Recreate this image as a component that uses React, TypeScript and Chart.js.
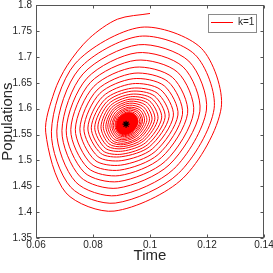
import React, { useEffect, useRef } from 'react';
import { Chart, registerables } from 'chart.js';

Chart.register(...registerables);

// Trajectory, in drawing order (outer start, spiralling inward)
const spiralX = [
  0.1000, 0.0886, 0.0787, 0.0710, 0.0664,
  0.0634, 0.0705, 0.0874, 0.1116, 0.1250, 0.1180, 0.0968, 0.0736,
  0.0654, 0.0722, 0.0878, 0.1099, 0.1225, 0.1158, 0.0963, 0.0751,
  0.0673, 0.0739, 0.0882, 0.1083, 0.1198, 0.1136, 0.0959, 0.0765,
  0.0691, 0.0755, 0.0886, 0.1067, 0.1175, 0.1116, 0.0955, 0.0779,
  0.0706, 0.0769, 0.0889, 0.1054, 0.1153, 0.1097, 0.0951, 0.0791,
  0.0722, 0.0782, 0.0892, 0.1040, 0.1132, 0.1079, 0.0947, 0.0803,
  0.0738, 0.0794, 0.0894, 0.1029, 0.1114, 0.1064, 0.0944, 0.0814,
  0.0754, 0.0806, 0.0897, 0.1018, 0.1098, 0.1050, 0.0941, 0.0824,
  0.0768, 0.0817, 0.0899, 0.1008, 0.1082, 0.1037, 0.0938, 0.0834,
  0.0782, 0.0827, 0.0901, 0.0999, 0.1067, 0.1025, 0.0936, 0.0842,
  0.0794, 0.0835, 0.0902, 0.0992, 0.1053, 0.1015, 0.0934, 0.0849,
  0.0806, 0.0843, 0.0904, 0.0985, 0.1041, 0.1006, 0.0933, 0.0855,
  0.0817, 0.0850, 0.0905, 0.0978, 0.1028, 0.0998, 0.0932, 0.0861,
  0.0828, 0.0856, 0.0906, 0.0973, 0.1017, 0.0991, 0.0930, 0.0866,
  0.0836, 0.0862, 0.0907, 0.0967, 0.1007, 0.0984, 0.0929, 0.0871,
  0.0845, 0.0867, 0.0908, 0.0963, 0.0998, 0.0977, 0.0928, 0.0875,
  0.0852, 0.0872, 0.0909, 0.0958, 0.0989, 0.0971, 0.0927, 0.0880,
  0.0859, 0.0877, 0.0909, 0.0954, 0.0981, 0.0966, 0.0926, 0.0884,
  0.0866, 0.0881, 0.0910, 0.0950, 0.0974, 0.0961, 0.0925, 0.0887,
  0.0871, 0.0885, 0.0911, 0.0947, 0.0969, 0.0957, 0.0924, 0.0890,
  0.0877, 0.0888, 0.0911, 0.0944, 0.0964, 0.0952, 0.0924, 0.0893,
  0.0880, 0.0891, 0.0912, 0.0941, 0.0958, 0.0949, 0.0923, 0.0895,
  0.0883, 0.0892, 0.0912, 0.0940, 0.0956, 0.0947, 0.0923, 0.0896,
  0.0885, 0.0894, 0.0912, 0.0938, 0.0953, 0.0945, 0.0922, 0.0897,
  0.0887, 0.0895, 0.0913, 0.0937, 0.0951, 0.0943, 0.0922, 0.0899,
  0.0889, 0.0897, 0.0913, 0.0936, 0.0948, 0.0941, 0.0922, 0.0900,
  0.0891, 0.0898, 0.0913, 0.0934, 0.0946, 0.0939, 0.0921, 0.0901,
  0.0893, 0.0900, 0.0914, 0.0933, 0.0943, 0.0937, 0.0921, 0.0903,
  0.0895, 0.0901, 0.0914, 0.0931, 0.0941, 0.0935, 0.0920, 0.0904,
  0.0898, 0.0903, 0.0914, 0.0930, 0.0938, 0.0933, 0.0920, 0.0906,
  0.0900, 0.0905, 0.0915, 0.0928, 0.0936, 0.0931, 0.0920, 0.0907,
  0.0902, 0.0906, 0.0915, 0.0927, 0.0933, 0.0930, 0.0919, 0.0909,
  0.0905, 0.0908, 0.0915, 0.0925, 0.0931, 0.0928, 0.0919, 0.0910,
  0.0907, 0.0910, 0.0916, 0.0924, 0.0928, 0.0926, 0.0919, 0.0911,
  0.0909, 0.0911, 0.0916, 0.0922, 0.0926, 0.0924, 0.0918, 0.0913,
  0.0911, 0.0913, 0.0916, 0.0921, 0.0923, 0.0922, 0.0918, 0.0914,
  0.0913, 0.0914, 0.0917, 0.0919, 0.0921, 0.0920, 0.0918, 0.0917,
];

const spiralY = [
  1.784, 1.773, 1.736, 1.684, 1.632,
  1.5545, 1.4373, 1.4020, 1.4657, 1.6022, 1.7168, 1.7573, 1.6862,
  1.5555, 1.4481, 1.4175, 1.4744, 1.5999, 1.7044, 1.7399, 1.6765,
  1.5566, 1.4584, 1.4319, 1.4831, 1.5973, 1.6920, 1.7235, 1.6673,
  1.5576, 1.4683, 1.4464, 1.4912, 1.5950, 1.6808, 1.7081, 1.6589,
  1.5584, 1.4770, 1.4590, 1.4985, 1.5929, 1.6704, 1.6936, 1.6508,
  1.5593, 1.4853, 1.4706, 1.5054, 1.5909, 1.6604, 1.6801, 1.6430,
  1.5602, 1.4932, 1.4812, 1.5115, 1.5891, 1.6519, 1.6685, 1.6359,
  1.5610, 1.5007, 1.4908, 1.5170, 1.5876, 1.6442, 1.6579, 1.6295,
  1.5618, 1.5075, 1.4995, 1.5222, 1.5860, 1.6368, 1.6482, 1.6234,
  1.5626, 1.5138, 1.5072, 1.5268, 1.5846, 1.6302, 1.6395, 1.6180,
  1.5632, 1.5185, 1.5121, 1.5306, 1.5832, 1.6248, 1.6337, 1.6136,
  1.5639, 1.5237, 1.5179, 1.5344, 1.5820, 1.6198, 1.6279, 1.6095,
  1.5645, 1.5280, 1.5227, 1.5378, 1.5808, 1.6152, 1.6231, 1.6058,
  1.5651, 1.5320, 1.5266, 1.5407, 1.5797, 1.6109, 1.6183, 1.6024,
  1.5656, 1.5356, 1.5304, 1.5436, 1.5787, 1.6071, 1.6144, 1.5994,
  1.5660, 1.5387, 1.5333, 1.5460, 1.5778, 1.6036, 1.6106, 1.5967,
  1.5664, 1.5419, 1.5372, 1.5486, 1.5770, 1.6001, 1.6067, 1.5940,
  1.5668, 1.5447, 1.5401, 1.5506, 1.5763, 1.5970, 1.6028, 1.5913,
  1.5672, 1.5474, 1.5430, 1.5526, 1.5756, 1.5943, 1.5999, 1.5893,
  1.5675, 1.5498, 1.5459, 1.5544, 1.5750, 1.5920, 1.5970, 1.5872,
  1.5678, 1.5518, 1.5478, 1.5558, 1.5745, 1.5897, 1.5941, 1.5855,
  1.5680, 1.5534, 1.5497, 1.5573, 1.5740, 1.5878, 1.5922, 1.5844,
  1.5681, 1.5545, 1.5511, 1.5581, 1.5738, 1.5867, 1.5909, 1.5835,
  1.5682, 1.5554, 1.5522, 1.5588, 1.5735, 1.5856, 1.5895, 1.5826,
  1.5683, 1.5564, 1.5534, 1.5596, 1.5733, 1.5845, 1.5882, 1.5818,
  1.5685, 1.5573, 1.5546, 1.5603, 1.5730, 1.5834, 1.5868, 1.5809,
  1.5686, 1.5583, 1.5557, 1.5611, 1.5728, 1.5824, 1.5854, 1.5800,
  1.5687, 1.5592, 1.5569, 1.5618, 1.5725, 1.5813, 1.5841, 1.5791,
  1.5688, 1.5602, 1.5580, 1.5626, 1.5723, 1.5802, 1.5827, 1.5782,
  1.5689, 1.5613, 1.5594, 1.5634, 1.5721, 1.5791, 1.5814, 1.5772,
  1.5691, 1.5624, 1.5607, 1.5642, 1.5718, 1.5780, 1.5800, 1.5764,
  1.5692, 1.5634, 1.5619, 1.5650, 1.5716, 1.5770, 1.5787, 1.5754,
  1.5693, 1.5645, 1.5632, 1.5658, 1.5713, 1.5759, 1.5773, 1.5745,
  1.5694, 1.5654, 1.5644, 1.5665, 1.5711, 1.5748, 1.5760, 1.5736,
  1.5696, 1.5665, 1.5658, 1.5673, 1.5708, 1.5737, 1.5746, 1.5727,
  1.5697, 1.5675, 1.5669, 1.5681, 1.5706, 1.5726, 1.5733, 1.5718,
  1.5698, 1.5684, 1.5681, 1.5688, 1.5703, 1.5715, 1.5719, 1.5702,
];

// index where the dense core of the spiral begins
const denseCoreStart = 181;

const equilibriumX = [0.0916];
const equilibriumY = [1.570];

const xTickValues = [0.06, 0.08, 0.1, 0.12, 0.14];
const xTickLabels = ['0.06', '0.08', '0.1', '0.12', '0.14'];
const yTickValues = [1.35, 1.4, 1.45, 1.5, 1.55, 1.6, 1.65, 1.7, 1.75, 1.8];
const yTickLabels = ['1.35', '1.4', '1.45', '1.5', '1.55', '1.6', '1.65', '1.7', '1.75', '1.8'];

const seriesLabel = 'k=1';
const xAxisTitle = 'Time';
const yAxisTitle = 'Populations';

const NARROW = "'Liberation Sans Narrow', 'Liberation Sans', Arial, sans-serif";
const REGULAR = "'Liberation Sans', Arial, sans-serif";
const TEXT = '#262626';

const framePlugin = {
  id: 'matlabFrame',
  afterLayout(chart: any) {
    const lg = chart.legend;
    if (lg) {
      const h = lg.height;
      lg.left = 198.5;
      lg.top = 5;
      lg.bottom = 5 + h;
    }
  },
  afterDraw(chart: any) {
    const { ctx, chartArea: a, scales } = chart;
    const xs = scales.x;
    const ys = scales.y;
    const L = Math.round(a.left) + 0.5;
    const R = Math.round(a.right) - 0.5;
    const T = Math.round(a.top) + 0.5;
    const B = Math.round(a.bottom) - 0.5;
    ctx.save();
    ctx.strokeStyle = '#555555';
    ctx.lineWidth = 1;
    ctx.strokeRect(L, T, R - L, B - T);
    ctx.beginPath();
    xs.ticks.forEach((t: any) => {
      const px = Math.round(xs.getPixelForValue(t.value)) + 0.5;
      ctx.moveTo(px, B);
      ctx.lineTo(px, B - 3);
      ctx.moveTo(px, T);
      ctx.lineTo(px, T + 3);
    });
    ys.ticks.forEach((t: any) => {
      const py = Math.round(ys.getPixelForValue(t.value)) + 0.5;
      ctx.moveTo(L, py);
      ctx.lineTo(L + 3, py);
      ctx.moveTo(R, py);
      ctx.lineTo(R - 3, py);
    });
    ctx.stroke();
    const lg = chart.legend;
    if (lg && lg.legendHitBoxes && lg.legendHitBoxes.length) {
      const hb = lg.legendHitBoxes[0];
      const x0 = Math.round(hb.left - 3.5) + 0.5;
      const y0 = Math.round(hb.top - 4) + 0.5;
      const x1 = Math.round(hb.left + hb.width + 2) + 0.5;
      const y1 = Math.round(hb.top + hb.height + 4) + 0.5;
      ctx.strokeStyle = '#8a8a8a';
      ctx.strokeRect(x0, y0, x1 - x0, y1 - y0);
    }
    ctx.restore();
  },
};

export default function App() {
  const ref = useRef<HTMLCanvasElement | null>(null);

  useEffect(() => {
    if (!ref.current) return;
    Chart.defaults.font.family = REGULAR;
    const spiral = spiralX.map((x, i) => ({ x, y: spiralY[i] }));
    const eq = equilibriumX.map((x, i) => ({ x, y: equilibriumY[i] }));

    const chart = new Chart(ref.current, {
      type: 'scatter',
      data: {
        datasets: [
          {
            label: seriesLabel,
            data: spiral,
            order: 1,
            showLine: true,
            borderColor: '#ff0000',
            backgroundColor: '#ff0000',
            borderWidth: 1,
            tension: 0.3,
            pointRadius: 0,
            pointHoverRadius: 0,
            pointStyle: 'line',
            fill: false,
            segment: {
              borderWidth: (c: any) => (c.p0DataIndex >= denseCoreStart ? 1.5 : 1),
            },
          },
          {
            label: 'equilibrium',
            data: eq,
            order: 0,
            showLine: false,
            pointStyle: 'star',
            pointRadius: 3.5,
            borderColor: '#000000',
            backgroundColor: '#000000',
            pointBorderWidth: 1.2,
          },
        ],
      },
      options: {
        animation: false,
        responsive: false,
        maintainAspectRatio: false,
        events: [],
        layout: { padding: { left: 0, top: 5, right: 9, bottom: 0 } },
        plugins: {
          tooltip: { enabled: false },
          legend: {
            position: 'chartArea',
            align: 'start',
            labels: {
              usePointStyle: true,
              pointStyleWidth: 22,
              boxHeight: 10,
              padding: 12.5,
              color: TEXT,
              font: { size: 10, family: NARROW },
              filter: (item: any) => item.datasetIndex === 0,
            },
          },
        },
        scales: {
          x: {
            type: 'linear',
            min: 0.06,
            max: 0.14,
            grid: { display: false, drawTicks: false },
            border: { display: false },
            afterBuildTicks: (s: any) => {
              s.ticks = xTickValues.map((v) => ({ value: v }));
            },
            ticks: {
              autoSkip: false,
              maxRotation: 0,
              minRotation: 0,
              padding: 1,
              color: TEXT,
              font: { size: 10, family: NARROW },
              callback: (_v: any, i: number) => xTickLabels[i],
            },
            title: {
              display: true,
              text: xAxisTitle,
              color: TEXT,
              font: { size: 15, family: NARROW, lineHeight: 1 },
              padding: { top: 0, bottom: 10 },
            },
            afterFit: (s: any) => {
              s.height = 35;
              s.paddingLeft = 0;
              s.paddingRight = 0;
            },
          },
          y: {
            type: 'linear',
            min: 1.35,
            max: 1.8,
            grid: { display: false, drawTicks: false },
            border: { display: false },
            afterBuildTicks: (s: any) => {
              s.ticks = yTickValues.map((v) => ({ value: v }));
            },
            ticks: {
              autoSkip: false,
              padding: 4,
              color: TEXT,
              font: { size: 10, family: NARROW },
              callback: (_v: any, i: number) => yTickLabels[i],
            },
            title: {
              display: true,
              text: yAxisTitle,
              color: TEXT,
              font: { size: 15, family: REGULAR, lineHeight: 1 },
              padding: { top: 0, bottom: 0 },
            },
            afterFit: (s: any) => {
              s.width = 36;
              s.paddingTop = 0;
              s.paddingBottom = 0;
            },
          },
        },
      },
      plugins: [framePlugin],
    } as any);

    return () => chart.destroy();
  }, []);

  return (
    <div style={{ position: 'fixed', left: 0, top: 0, width: 273, height: 273, background: '#ffffff' }}>
      <canvas ref={ref} width={273} height={273} style={{ display: 'block' }} />
    </div>
  );
}
